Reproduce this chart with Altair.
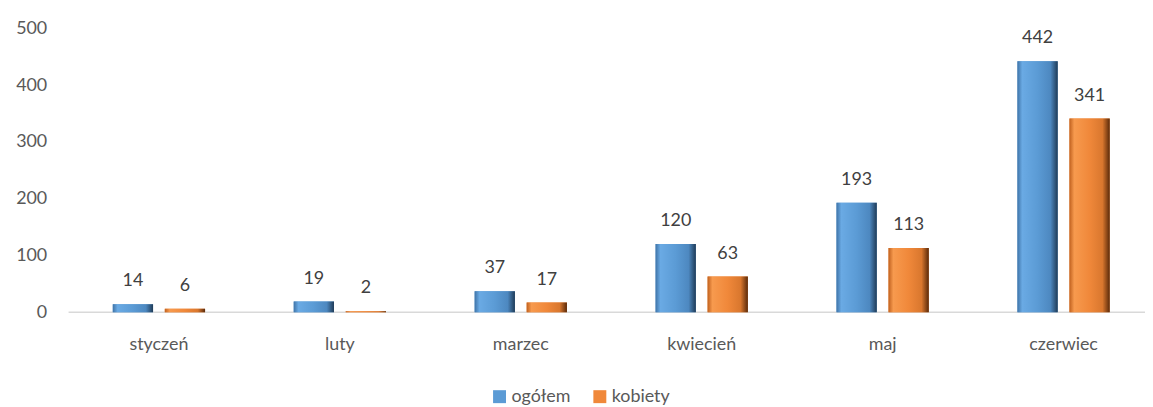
import altair as alt
import pandas as pd

months = ["styczeń", "luty", "marzec", "kwiecień", "maj", "czerwiec"]
ogolem = [14, 19, 37, 120, 193, 442]
kobiety = [6, 2, 17, 63, 113, 341]
series = ["ogółem", "kobiety"]
colors = ["#5b9bd5", "#f0883a"]

rows = []
for m, a, b in zip(months, ogolem, kobiety):
    rows.append({"miesiac": m, "seria": series[0], "wartosc": a})
    rows.append({"miesiac": m, "seria": series[1], "wartosc": b})
df = pd.DataFrame(rows)

FONT = "Lato"
LABEL_COLOR = "#595959"
FS = 18

x = alt.X("miesiac:N", sort=months,
          scale=alt.Scale(paddingInner=0.49, paddingOuter=0.195),
          axis=alt.Axis(title=None, labelAngle=0, ticks=False, domain=False,
                        labelFontSize=FS, labelColor=LABEL_COLOR,
                        labelFont=FONT, labelPadding=24))
xo = alt.XOffset("seria:N", sort=series, scale=alt.Scale(paddingInner=0.226, paddingOuter=0))
y = alt.Y("wartosc:Q", scale=alt.Scale(domain=[0, 500]),
          axis=alt.Axis(title=None, values=[0, 100, 200, 300, 400, 500], grid=False,
                        domain=False, ticks=False, labelFontSize=FS, labelColor=LABEL_COLOR,
                        labelFont=FONT, labelPadding=31))

base = alt.Chart(df)

baseline = alt.Chart(pd.DataFrame({"v": [0]})).mark_rule(color="#d9d9d9", strokeWidth=1.5).encode(
    x=alt.value(-9), x2=alt.value(1075), y=alt.Y("v:Q"))

flat = base.mark_bar().encode(
    x=x, xOffset=xo, y=y,
    color=alt.Color("seria:N", sort=series,
                    scale=alt.Scale(domain=series, range=colors),
                    legend=alt.Legend(title=None, orient="none", direction="horizontal",
                                      legendX=416, legendY=362, symbolType="square",
                                      symbolSize=170, symbolStrokeWidth=0,
                                      labelFontSize=FS, labelColor=LABEL_COLOR,
                                      labelFont=FONT, columnPadding=20, labelOffset=3)),
)

def grad(stops):
    return alt.Gradient(gradient="linear", x1=0, x2=1, y1=0, y2=0,
                        stops=[alt.GradientStop(offset=o, color=c) for o, c in stops])

blue_grad = grad([(0, "#3f74a8"), (0.12, "#6aaae4"), (0.5, "#5b9bd5"), (0.82, "#4d88c0"), (1, "#1f3b57")])
orange_grad = grad([(0, "#c0611f"), (0.12, "#f79a4e"), (0.5, "#f0883a"), (0.82, "#d9772e"), (1, "#5a2a0a")])

blue_bars = base.transform_filter(alt.datum.seria == series[0]).mark_bar(color=blue_grad).encode(
    x=x, xOffset=xo, y=y)
orange_bars = base.transform_filter(alt.datum.seria == series[1]).mark_bar(color=orange_grad).encode(
    x=x, xOffset=xo, y=y)

labels = base.mark_text(baseline="bottom", dy=-14, fontSize=FS, font=FONT, color="#404040").encode(
    x=x, xOffset=xo, y=y, text="wartosc:Q")

chart = alt.layer(baseline, flat, blue_bars, orange_bars, labels).properties(
    width=1075, height=286,
    autosize=alt.AutoSizeParams(type="none"),
    padding={"left": 70, "top": 19, "right": 0, "bottom": 94},
).configure_view(stroke=None)

chart.save("out.html", embed_options={"renderer": "svg", "actions": False})
